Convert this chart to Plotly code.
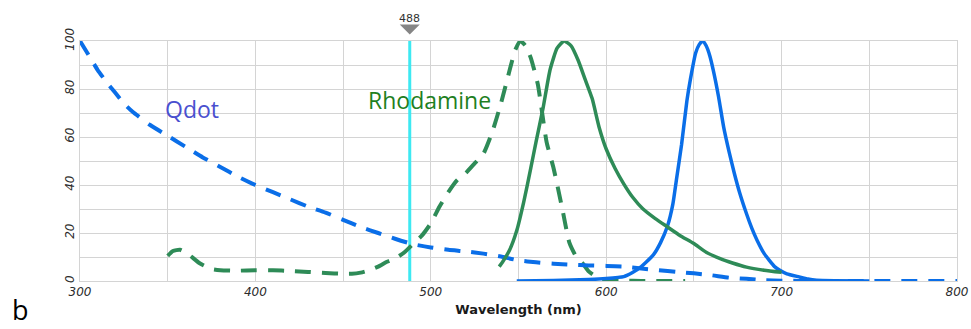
import plotly.graph_objects as go

# Qdot absorption (dashed blue), % of max
qdot_abs_nm = [300, 305, 310, 315, 320, 325, 330, 340, 350, 360, 370, 380, 390, 400, 410, 420,
               430, 440, 450, 460, 470, 480, 490, 500, 510, 520, 530, 540, 550, 560, 570, 580,
               590, 600, 610, 620, 630, 640, 650, 660, 670, 680, 690, 700, 720, 750, 800]
qdot_abs = [100, 94, 88, 83, 78.5, 74, 70.5, 65, 60.5, 56, 51.5, 47.5, 43.5, 40, 37, 34,
            31, 28.5, 25.5, 22.5, 20, 17.5, 15.3, 14, 13, 12.3, 11.4, 10.2, 8.6, 7.8, 7.2, 6.8,
            6.5, 6.3, 6, 5.2, 4.5, 3.8, 3.2, 2.4, 1.4, 0.9, 0.3, 0.1, 0, 0, 0]

# Qdot emission (solid blue)
qdot_em_nm = [549, 570, 590, 600, 610, 615, 620, 623, 627, 631, 635, 638, 640, 643, 646, 648,
              651, 653, 655, 657, 659, 661, 664, 667, 670, 673, 676, 680, 683, 686, 690, 693,
              696, 699, 703, 710, 715, 720, 730, 750]
qdot_em = [0, 0.2, 0.6, 1, 1.8, 3.5, 6, 8, 11, 16, 23, 32, 42, 57, 75, 84,
           95, 98.5, 100, 98, 94, 88, 77, 64, 54, 45, 37, 28, 22, 17, 11.5, 8.6,
           6, 4.5, 3, 1.7, 0.8, 0.3, 0.1, 0]

# Rhodamine absorption (dashed green)
rhod_abs_nm = [350, 353, 357, 362, 368, 375, 380, 390, 400, 410, 420, 430, 440, 450, 455, 460,
               465, 470, 475, 480, 485, 490, 495, 500, 505, 510, 515, 520, 525, 530, 535, 540,
               545, 548, 551, 554, 557, 561, 566, 570, 575, 579, 583, 587, 590, 595, 600, 610,
               620, 645]
rhod_abs = [10.5, 12.5, 13, 11, 7.5, 5, 4.5, 4.3, 4.5, 4.5, 4.2, 3.8, 3.3, 3, 3, 3.5,
            4.5, 6, 8, 9.5, 12, 15.5, 19, 24, 31, 37, 42, 45, 49, 53, 62, 74,
            88, 96, 100, 98, 93, 82, 58, 47, 30, 16, 10, 7, 4, 1.5, 0.5, 0.2,
            0, 0]

# Rhodamine emission (solid green)
rhod_em_nm = [539, 541, 545, 549, 553, 557, 560, 564, 568, 572, 576, 580, 584, 588, 592, 596,
              600, 605, 610, 615, 621, 628, 635, 642, 650, 657, 665, 672, 680, 690, 700]
rhod_em = [6, 8, 13, 21, 33, 47, 58, 72, 88, 97, 100, 98, 92, 84, 76, 64,
           55, 47, 40.5, 35, 30, 26, 22.5, 19, 15.6, 12, 9.3, 7.5, 5.8, 4.5, 3.6]

laser_nm = 488
x_range = [300, 800]
y_range = [0, 100]
x_ticks = [300, 400, 500, 600, 700, 800]
y_ticks = [0, 20, 40, 60, 80, 100]

BLUE = "#0a6ee8"
GREEN = "#2e8b57"
GRID = "#d4d4d4"

fig = go.Figure()

# excitation line
fig.add_trace(go.Scatter(x=[laser_nm, laser_nm], y=y_range, mode="lines",
                         line=dict(color="#3de9f2", width=3), hoverinfo="skip"))

fig.add_trace(go.Scatter(x=rhod_abs_nm, y=rhod_abs, mode="lines", name="Rhodamine abs",
                         line=dict(color=GREEN, width=4, dash="16px,11px", shape="spline", smoothing=0.5)))
fig.add_trace(go.Scatter(x=qdot_abs_nm, y=qdot_abs, mode="lines", name="Qdot abs",
                         line=dict(color=BLUE, width=4, dash="16px,11px", shape="spline", smoothing=0.5)))
fig.add_trace(go.Scatter(x=qdot_em_nm, y=qdot_em, mode="lines", name="Qdot em",
                         line=dict(color=BLUE, width=3.5, shape="spline", smoothing=0.5)))
fig.add_trace(go.Scatter(x=rhod_em_nm, y=rhod_em, mode="lines", name="Rhodamine em",
                         line=dict(color=GREEN, width=3.5, shape="spline", smoothing=0.5)))

for tr in fig.data:
    tr.cliponaxis = False

tick_font = dict(family="DejaVu Sans", size=12, color="#2b2b2b", style="italic")

fig.update_layout(
    width=971, height=329,
    margin=dict(l=80, r=14, t=41, b=48, autoexpand=False),
    paper_bgcolor="white", plot_bgcolor="white",
    showlegend=False,
    xaxis=dict(range=x_range, tickvals=x_ticks, ticktext=[str(v) for v in x_ticks],
               automargin=False,
               showgrid=True, gridcolor=GRID, gridwidth=1,
               minor=dict(dtick=50, showgrid=True, gridcolor=GRID, gridwidth=1),
               showline=True, mirror=True, linecolor=GRID, linewidth=1,
               zeroline=False, ticks="", tickfont=tick_font,
               title=dict(text="Wavelength (nm)", standoff=6,
                          font=dict(family="DejaVu Sans", size=13, color="#1a1a1a", weight="bold"))),
    yaxis=dict(range=y_range, tickvals=y_ticks, ticktext=[str(v) for v in y_ticks],
               automargin=False,
               showgrid=True, gridcolor=GRID, gridwidth=1,
               minor=dict(dtick=10, showgrid=True, gridcolor=GRID, gridwidth=1),
               showline=True, mirror=True, linecolor=GRID, linewidth=1,
               zeroline=False, ticks="", tickangle=-90, tickfont=tick_font),
    shapes=[
        # downward marker above the excitation line
        dict(type="path", xref="x", yref="paper", xsizemode="pixel", ysizemode="pixel",
             xanchor=laser_nm, yanchor=1, path="M -10,16.5 L 10,16.5 L 0,6.5 Z",
             fillcolor="#858585", line=dict(width=0)),
    ],
    annotations=[
        dict(x=laser_nm, y=1, xref="x", yref="paper", yanchor="bottom", yshift=14,
             text=str(laser_nm), showarrow=False,
             font=dict(family="DejaVu Sans", size=11, color="#333333")),
        dict(x=364, y=71.7, xref="x", yref="y", text="Qdot", showarrow=False,
             font=dict(family="Open Sans", size=23, color="#4a4fcf")),
        dict(x=499.3, y=75.6, xref="x", yref="y", text="Rhodamine", showarrow=False,
             font=dict(family="Open Sans", size=23, color="#1f7f1f")),
        dict(x=-0.0684, y=-0.2, xref="paper", yref="paper", xanchor="center", yanchor="bottom",
             text="b", showarrow=False, borderpad=0,
             font=dict(family="Open Sans", size=27, color="#000000")),
    ],
)

fig.write_html("out.html")
